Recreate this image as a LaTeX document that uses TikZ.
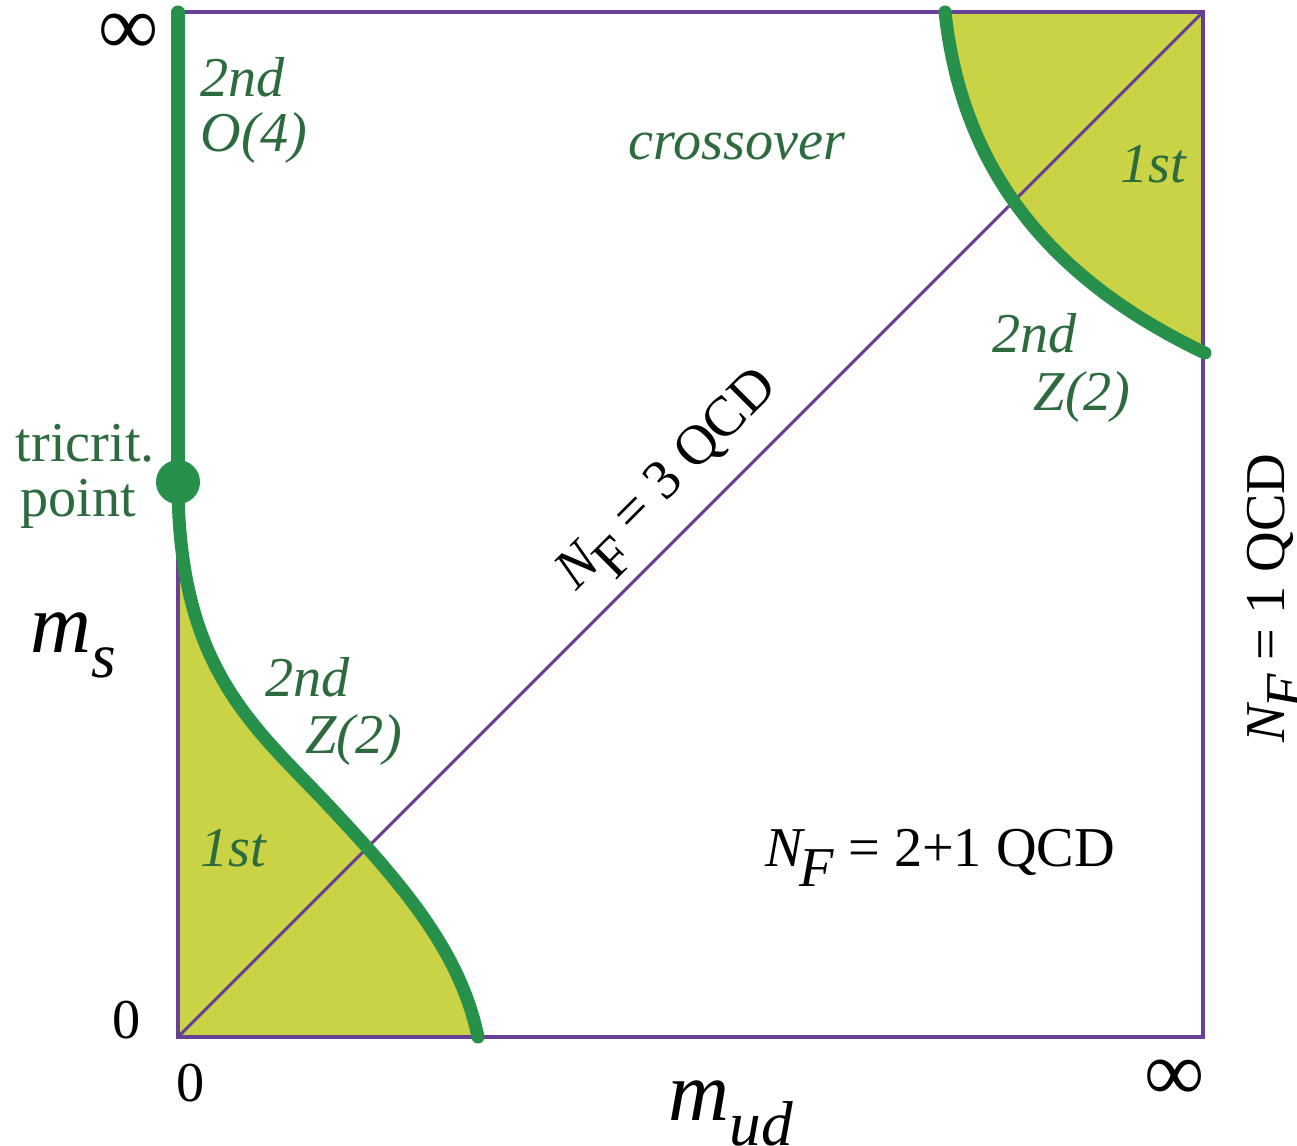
\documentclass[tikz,border=0pt]{standalone}
\usepackage{fontspec}
\setmainfont{LiberationSerif}[
    Extension=.ttf,
    UprightFont=*-Regular,
    ItalicFont=*-Italic,
    BoldFont=*-Bold,
    BoldItalicFont=*-BoldItalic]
\usetikzlibrary{positioning}
\definecolor{boxpurple}{RGB}{103,63,149}
\definecolor{linegreen}{RGB}{39,145,75}
\definecolor{fillgreen}{RGB}{201,211,69}
\definecolor{textgreen}{RGB}{45,107,63}
\newcommand{\nflav}{{\itshape N}\kern-0.06em\raisebox{-0.36em}{\itshape F}}
\newcommand{\masssub}[1]{\raisebox{-0.3em}{\fontsize{18}{20}\selectfont\itshape #1}}
\tikzset{
    frame/.style={
        draw=boxpurple,
        line width=1.15pt
    },
    diag/.style={
        draw=boxpurple,
        line width=0.85pt
    },
    transition/.style={
        draw=linegreen,
        line width=3.7pt,
        line cap=round
    },
    region/.style={
        fill=fillgreen
    },
    phase/.style={
        text=textgreen,
        font=\fontsize{16}{19}\selectfont\itshape,
        inner sep=0pt,
        anchor=base west
    },
    tricritlbl/.style={
        text=textgreen,
        font=\fontsize{16}{19}\selectfont,
        inner sep=0pt,
        anchor=base west
    },
    qcd/.style={
        font=\fontsize{16}{19}\selectfont,
        inner sep=0pt
    },
    axislbl/.style={
        font=\fontsize{24}{28}\selectfont,
        inner sep=0pt,
        anchor=base west
    },
    tick/.style={
        font=\fontsize{16}{19}\selectfont,
        inner sep=0pt
    }
}

\begin{document}
\begin{tikzpicture}[x=0.01cm, y=-0.01cm]
\useasboundingbox (0,0) rectangle (1297,1146);

% Corners of the mass plane
\coordinate (origin) at (178,1037);
\coordinate (topleft) at (178,12);
\coordinate (topright) at (1203,12);
\coordinate (tricrit) at (178,482);
\coordinate (bend) at (330,807);
\coordinate (lowend) at (478,1037);
\coordinate (highstart) at (945,12);
\coordinate (highend) at (1205,353);

% First order regions
\fill[region] (tricrit) .. controls (178,670) and (255,727) .. (bend)
    .. controls (400,882) and (460,950) .. (lowend) -- (origin) -- cycle;
\fill[region] (highstart) .. controls (960,150) and (1030,270) .. (highend)
    -- (1203,353) -- (topright) -- cycle;

% Frame and N_F = 3 diagonal
\draw[frame] (origin) rectangle (topright);
\draw[diag] (origin) -- (topright);

% Transition lines
\draw[transition] (topleft) -- (tricrit);
\draw[transition] (tricrit) .. controls (178,670) and (255,727) .. (bend)
    .. controls (400,882) and (460,950) .. (lowend);
\draw[transition] (highstart) .. controls (960,150) and (1030,270) .. (highend);
\fill[linegreen] (tricrit) circle[radius=0.22cm];

% Phase labels
\node[phase] (o4a) at (200,97) {2nd};
\node[phase] (o4b) at (200,152) {O(4)};
\node[phase] (cross) at (628,160) {crossover};
\node[phase] (firsthi) at (1120,183) {1st};
\node[phase] (z2hia) at (992,353) {2nd};
\node[phase] (z2hib) at (1033,410) {Z(2)};
\node[tricritlbl] (tria) at (15,462) {tricrit.};
\node[tricritlbl] (trib) at (20,517) {point};
\node[phase] (z2loa) at (265,696) {2nd};
\node[phase] (z2lob) at (305,753) {Z(2)};
\node[phase] (firstlo) at (200,866) {1st};

% QCD labels
\node[qcd, rotate=45] (nf3) at (672,484) {{\itshape N}\kern-0.06em\raisebox{-0.36em}{F} = 3 QCD};
\node[qcd, anchor=base west] (nf21) at (765,866) {\nflav\ = 2+1 QCD};
\node[qcd, rotate=90] (nf1) at (1276,598) {\nflav\ = 1 QCD};

% Axes
\node[axislbl] (ms) at (30,652) {{\itshape m}\masssub{s}};
\node[axislbl] (mud) at (668,1120) {{\itshape m}\masssub{ud}};
\node[tick, anchor=base] (zeroy) at (127,1038) {0};
\node[tick, anchor=base] (zerox) at (191,1101) {0};
\node[tick, font=\fontsize{24}{28}\selectfont] (infy) at (129,34) {∞};
\node[tick, font=\fontsize{24}{28}\selectfont] (infx) at (1175,1080) {∞};

\end{tikzpicture}
\end{document}
